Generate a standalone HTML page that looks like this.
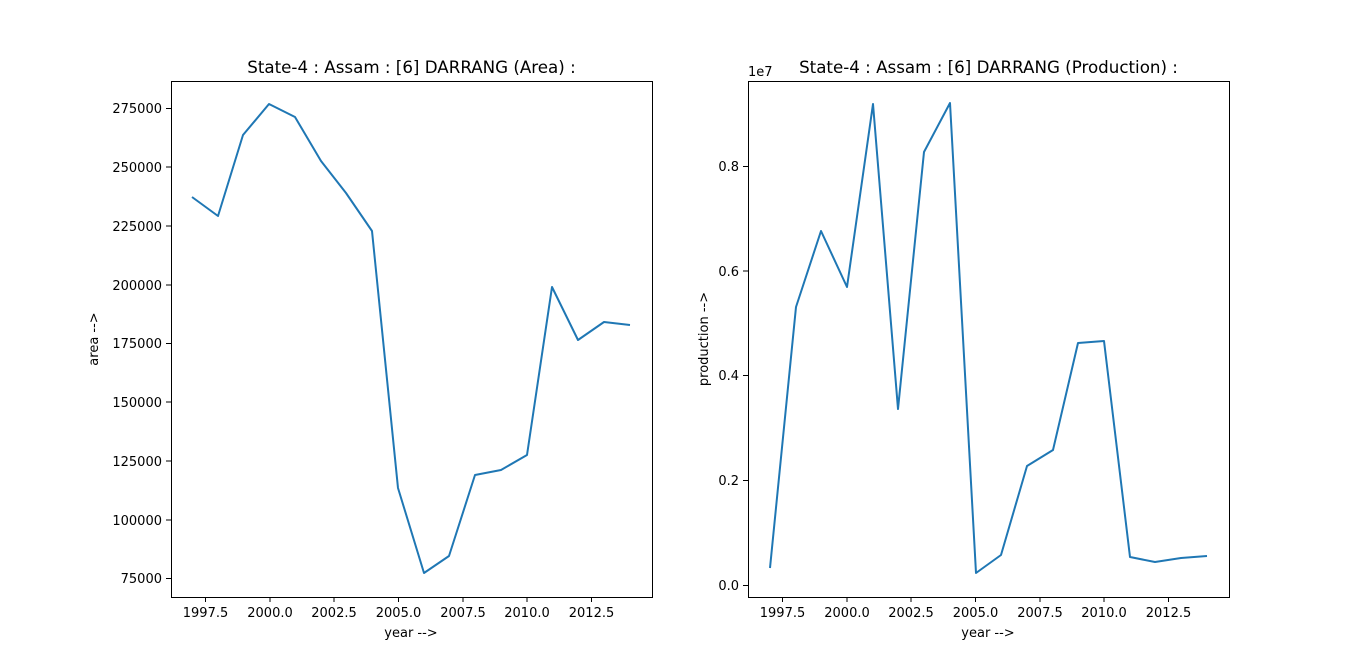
<!DOCTYPE html>
<html><head><meta charset="utf-8"><style>
body{margin:0;background:#fff;}
svg{display:block;font-family:"DejaVu Sans","Liberation Sans",sans-serif;}
</style></head><body>
<svg width="1366" height="671" viewBox="0 0 1366 671" xmlns="http://www.w3.org/2000/svg">
<rect width="1366" height="671" fill="#fff"/>
<!-- Left axes -->
<rect x="171.5" y="81.5" width="481" height="516" fill="none" stroke="#000" stroke-width="1"/>
<g stroke="#000" stroke-width="1">
<line x1="205.5" y1="597" x2="205.5" y2="602"/><line x1="270" y1="597" x2="270" y2="602"/><line x1="334" y1="597" x2="334" y2="602"/><line x1="398.5" y1="597" x2="398.5" y2="602"/><line x1="463" y1="597" x2="463" y2="602"/><line x1="527" y1="597" x2="527" y2="602"/><line x1="591.5" y1="597" x2="591.5" y2="602"/>
<line x1="166" y1="108.5" x2="171" y2="108.5"/><line x1="166" y1="167" x2="171" y2="167"/><line x1="166" y1="226" x2="171" y2="226"/><line x1="166" y1="285" x2="171" y2="285"/><line x1="166" y1="343.5" x2="171" y2="343.5"/><line x1="166" y1="402" x2="171" y2="402"/><line x1="166" y1="461" x2="171" y2="461"/><line x1="166" y1="520" x2="171" y2="520"/><line x1="166" y1="578.5" x2="171" y2="578.5"/>
</g>
<g font-size="13" text-anchor="middle" fill="#000">
<text x="205.5" y="617">1997.5</text><text x="270" y="617">2000.0</text><text x="334" y="617">2002.5</text><text x="398.5" y="617">2005.0</text><text x="463" y="617">2007.5</text><text x="527" y="617">2010.0</text><text x="591.5" y="617">2012.5</text>
</g>
<g font-size="13" text-anchor="end" fill="#000">
<text x="162" y="113">275000</text><text x="162" y="172">250000</text><text x="162" y="231">225000</text><text x="162" y="290">200000</text><text x="162" y="348">175000</text><text x="162" y="407">150000</text><text x="162" y="466">125000</text><text x="162" y="525">100000</text><text x="162" y="583">75000</text>
</g>
<text x="411" y="637" font-size="13" text-anchor="middle">year --&gt;</text>
<text transform="translate(98,339) rotate(-90)" font-size="13" text-anchor="middle">area --&gt;</text>
<text x="411.5" y="73" font-size="16.7" text-anchor="middle">State-4 : Assam : [6] DARRANG (Area) :</text>
<polyline fill="none" stroke="#1f77b4" stroke-width="2" stroke-linejoin="round" points="192,197 218,216 243,135 269,104 295,117 321,161 346,193 372,231 398,488 424,573 449,556 475,475 501,470 527,455 552,287 578,340 604,322 630,325"/>
<!-- Right axes -->
<rect x="748.5" y="81.5" width="481" height="516" fill="none" stroke="#000" stroke-width="1"/>
<g stroke="#000" stroke-width="1">
<line x1="782.5" y1="597" x2="782.5" y2="602"/><line x1="847" y1="597" x2="847" y2="602"/><line x1="911" y1="597" x2="911" y2="602"/><line x1="975.5" y1="597" x2="975.5" y2="602"/><line x1="1040" y1="597" x2="1040" y2="602"/><line x1="1104" y1="597" x2="1104" y2="602"/><line x1="1168.5" y1="597" x2="1168.5" y2="602"/>
<line x1="743" y1="585.5" x2="748" y2="585.5"/><line x1="743" y1="480.5" x2="748" y2="480.5"/><line x1="743" y1="375.5" x2="748" y2="375.5"/><line x1="743" y1="271" x2="748" y2="271"/><line x1="743" y1="166.5" x2="748" y2="166.5"/>
</g>
<g font-size="13" text-anchor="middle" fill="#000">
<text x="782.5" y="617">1997.5</text><text x="847" y="617">2000.0</text><text x="911" y="617">2002.5</text><text x="975.5" y="617">2005.0</text><text x="1040" y="617">2007.5</text><text x="1104" y="617">2010.0</text><text x="1168.5" y="617">2012.5</text>
</g>
<g font-size="13" text-anchor="end" fill="#000">
<text x="739" y="590">0.0</text><text x="739" y="485">0.2</text><text x="739" y="380">0.4</text><text x="739" y="276">0.6</text><text x="739" y="171">0.8</text>
</g>
<text x="748" y="76" font-size="13">1e7</text>
<text x="988" y="637" font-size="13" text-anchor="middle">year --&gt;</text>
<text transform="translate(708,339) rotate(-90)" font-size="13" text-anchor="middle">production --&gt;</text>
<text x="988.5" y="73" font-size="16.7" text-anchor="middle">State-4 : Assam : [6] DARRANG (Production) :</text>
<polyline fill="none" stroke="#1f77b4" stroke-width="2" stroke-linejoin="round" points="770,568 796,307 821,231 847,287 873,104 898,409 924,152 950,103 976,573 1001,555 1027,466 1053,450 1078,343 1104,341 1130,557 1155,562 1181,558 1207,556"/>
</svg>
</body></html>
